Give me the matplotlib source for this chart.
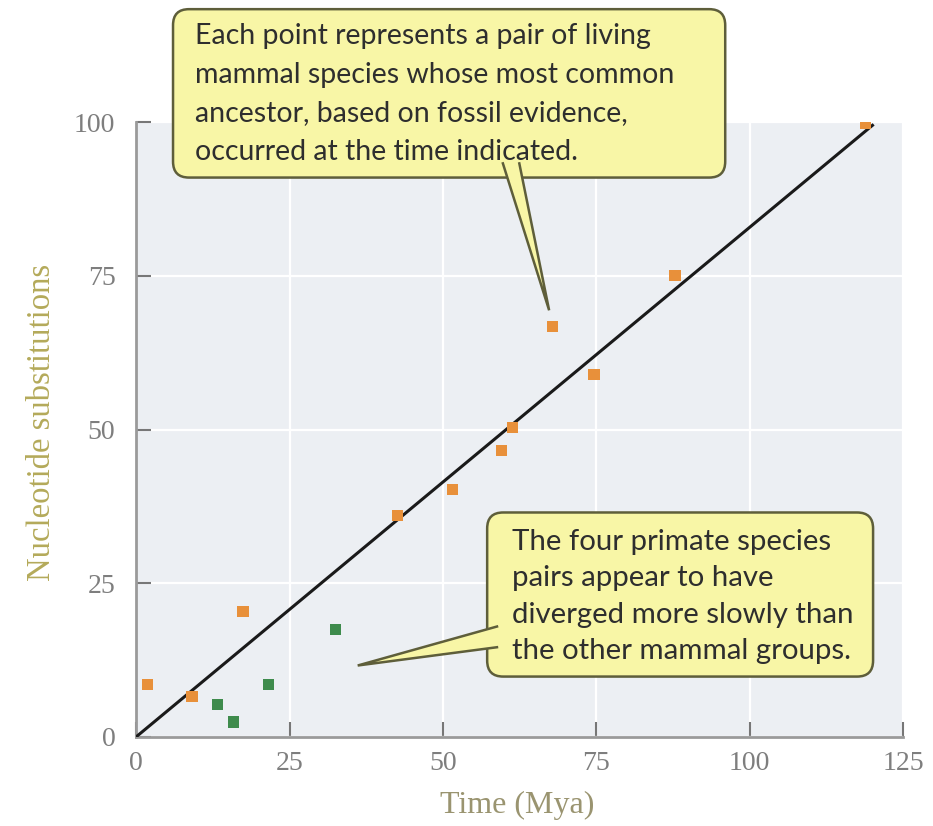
"""
Molecular clock: nucleotide substitutions vs. divergence time.
"""

import matplotlib.pyplot as plt
from matplotlib.patches import Polygon, FancyBboxPatch

# data
mammal_time = [1.8, 9.1, 17.4, 42.6, 51.5, 59.5, 61.3, 67.8, 74.6, 87.8, 118.9]
mammal_subs = [8.5, 6.5, 20.4, 36.0, 40.2, 46.6, 50.3, 66.8, 59.0, 75.0, 99.8]
primate_time = [13.3, 15.9, 21.6, 32.5]
primate_subs = [5.2, 2.4, 8.5, 17.4]
fit_time = [0, 120]
fit_subs = [0, 99.5]
ticks = [0, 25, 50, 75, 100, 125]
yticks = [0, 25, 50, 75, 100]

note_top = ("Each point represents a pair of living\n"
            "mammal species whose most common\n"
            "ancestor, based on fossil evidence,\n"
            "occurred at the time indicated.")
note_bottom = ("The four primate species\n"
               "pairs appear to have\n"
               "diverged more slowly than\n"
               "the other mammal groups.")

fig = plt.figure(figsize=(9.33, 8.26), dpi=100)
ax = fig.add_axes([0.146, 0.108, 0.822, 0.744])
ax.set_facecolor("#eceff3")
ax.set_xlim(0, 125)
ax.set_ylim(0, 100)

ax.grid(True, color="white", linewidth=1.6)
ax.set_axisbelow(True)

ax.plot(fit_time, fit_subs, color="#1a1a1a", linewidth=2.2, zorder=3)
ax.scatter(mammal_time, mammal_subs, marker="s", s=65, color="#e8903a",
           edgecolors="none", zorder=4)
ax.scatter(primate_time, primate_subs, marker="s", s=65, color="#3e8b4c",
           edgecolors="none", zorder=4)

ax.set_xticks(ticks)
ax.set_yticks(yticks)
ax.tick_params(direction="in", length=11, width=1.5, color="#777777",
               labelcolor="#7e7e7e", labelsize=20)
ax.tick_params(axis="x", pad=10)
ax.tick_params(axis="y", pad=15)
for lbl in ax.get_xticklabels() + ax.get_yticklabels():
    lbl.set_family("Liberation Serif")
for side in ["top", "right"]:
    ax.spines[side].set_visible(False)
for side in ["left", "bottom"]:
    ax.spines[side].set_color("#9a9a9a")
    ax.spines[side].set_linewidth(2)

ax.set_xlabel("Time (Mya)", family="Liberation Serif", fontsize=23,
              color="#9a9470")
ax.xaxis.set_label_coords(0.497, -0.088)
ax.set_ylabel("Nucleotide substitutions", family="Liberation Serif",
              fontsize=23.5, color="#b4aa5a")
ax.yaxis.set_label_coords(-0.103, 0.512)

box_fc = "#f8f6a6"
box_ec = "#5e5e3a"

# callout boxes
for (x0, y0, w, h) in [(6.0, 91.0, 90.0, 27.4), (57.2, 9.8, 62.9, 26.7)]:
    ax.add_patch(FancyBboxPatch((x0, y0), w, h,
                                boxstyle="round,pad=0,rounding_size=2.6",
                                fc=box_fc, ec=box_ec, lw=1.8, zorder=5,
                                clip_on=False))

# callout tails: open outline so the base blends into the box
ax.add_patch(Polygon([(59.7, 93.5), (67.3, 69.4), (62.4, 93.5)], closed=False,
                     fc=box_fc, ec=box_ec, lw=1.8, zorder=6, clip_on=False))
ax.add_patch(Polygon([(59.0, 18.0), (36.1, 11.6), (59.0, 14.6)], closed=False,
                     fc=box_fc, ec=box_ec, lw=1.8, zorder=6, clip_on=False))

ax.text(9.6, 104.6, note_top, family="Lato", fontsize=20.5, color="#2e2e2e",
        linespacing=1.6, va="center", ha="left", zorder=7)
ax.text(61.3, 22.8, note_bottom, family="Lato", fontsize=21.2, color="#2e2e2e",
        linespacing=1.5, va="center", ha="left", zorder=7)

fig.savefig("out.png", dpi=100, facecolor="white")
